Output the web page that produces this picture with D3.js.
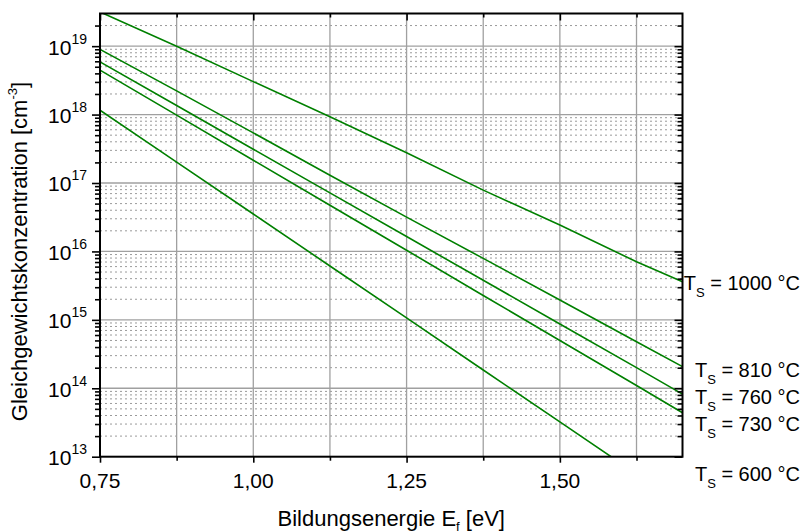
<!DOCTYPE html>
<html>
<head>
<meta charset="utf-8">
<script src="https://cdnjs.cloudflare.com/ajax/libs/d3/7.8.5/d3.min.js"></script>
<style>
  body { margin: 0; background: #fff; }
  svg text { font-family: "Liberation Sans", Arial, sans-serif; fill: #000; }
</style>
</head>
<body>
<div id="chart"></div>
<script>
// values
var energies = [0.75, 0.875, 1.0, 1.125, 1.25, 1.375, 1.5, 1.625, 1.70];
var conc1000 = [3.16e19, 1.0e19, 3.03e18, 9.27e17, 2.76e17, 7.87e16, 2.43e16, 7.06e15, 3.6e15];
var conc810 = [8.95e18, 2.22e18, 5.41e17, 1.30e17, 3.17e16, 7.91e15, 1.95e15, 4.79e14, 2.07e14];
var conc760 = [5.9e18, 1.36e18, 3.12e17, 7.17e16, 1.65e16, 3.79e15, 8.71e14, 2.0e14, 8.2e13];
var conc730 = [4.46e18, 9.8e17, 2.15e17, 4.72e16, 1.04e16, 2.27e15, 5.0e14, 1.10e14, 4.38e13];
var conc600 = [1.16e18, 2.02e17, 3.52e16, 6.13e15, 1.07e15, 1.85e14, 3.22e13, 5.6e12, 1.97e12];
var temps = ["1000", "810", "760", "730", "600"];

var xMajor = [0.75, 1.0, 1.25, 1.5];
var xMinor = [0.875, 1.125, 1.375, 1.625];
var yDecades = [13, 14, 15, 16, 17, 18, 19];

// label baselines on the right (layout only)
var labelBase = [290, 377, 404, 431, 481];

var width = 803, height = 532;
var pLeft = 100, pRight = 682.5, pTop = 13.5, pBottom = 456.7;

var svg = d3.select("#chart").append("svg")
  .attr("width", width)
  .attr("height", height);

var x = d3.scaleLinear().domain([0.75, 1.70]).range([pLeft, pRight]);
var y = d3.scaleLog().domain([1e13, 3e19]).range([pBottom, pTop]);

var yMajor = yDecades.map(function(d) { return Math.pow(10, d); });
var yMinor = [];
yDecades.forEach(function(d) {
  for (var k = 2; k <= 9; k++) {
    var v = k * Math.pow(10, d);
    if (v < 3e19) yMinor.push(v);
  }
});

// grid
var grid = svg.append("g");
grid.selectAll(".gminor")
  .data(yMinor)
  .enter().append("line")
  .attr("x1", pLeft).attr("x2", pRight)
  .attr("y1", function(d) { return y(d); })
  .attr("y2", function(d) { return y(d); })
  .attr("stroke", "#9a9a9a")
  .attr("stroke-width", 1)
  .attr("stroke-dasharray", "2,3");
grid.selectAll(".gmajor")
  .data(yMajor.slice(1))
  .enter().append("line")
  .attr("x1", pLeft).attr("x2", pRight)
  .attr("y1", function(d) { return y(d); })
  .attr("y2", function(d) { return y(d); })
  .attr("stroke", "#a0a0a0")
  .attr("stroke-width", 1.3);
grid.selectAll(".gx")
  .data(xMajor.slice(1).concat(xMinor))
  .enter().append("line")
  .attr("y1", pTop).attr("y2", pBottom)
  .attr("x1", function(d) { return x(d); })
  .attr("x2", function(d) { return x(d); })
  .attr("stroke", "#a0a0a0")
  .attr("stroke-width", 1.3);

// curves
svg.append("clipPath").attr("id", "plotclip")
  .append("rect")
  .attr("x", pLeft).attr("y", pTop)
  .attr("width", pRight - pLeft).attr("height", pBottom - pTop);

var series = [conc1000, conc810, conc760, conc730, conc600];
var line = d3.line()
  .x(function(d, i) { return x(energies[i]); })
  .y(function(d) { return y(d); });

svg.append("g").attr("clip-path", "url(#plotclip)")
  .selectAll("path")
  .data(series)
  .enter().append("path")
  .attr("d", line)
  .attr("fill", "none")
  .attr("stroke", "#008000")
  .attr("stroke-width", 1.6);

// axes
function styleAxis(g) {
  g.select(".domain").remove();
  g.selectAll(".tick line").attr("stroke", "#000").attr("stroke-width", 1.6);
  g.selectAll(".tick text").remove();
}

svg.append("g").attr("transform", "translate(0," + pBottom + ")")
  .call(d3.axisBottom(x).tickValues(xMajor).tickSize(6)).call(styleAxis);
svg.append("g").attr("transform", "translate(0," + pBottom + ")")
  .call(d3.axisBottom(x).tickValues(xMinor).tickSize(4)).call(styleAxis);
svg.append("g").attr("transform", "translate(0," + pTop + ")")
  .call(d3.axisTop(x).tickValues(xMajor).tickSize(-7)).call(styleAxis);
svg.append("g").attr("transform", "translate(0," + pTop + ")")
  .call(d3.axisTop(x).tickValues(xMinor).tickSize(-4)).call(styleAxis);

svg.append("g").attr("transform", "translate(" + pLeft + ",0)")
  .call(d3.axisLeft(y).tickValues(yMajor).tickSize(8)).call(styleAxis);
svg.append("g").attr("transform", "translate(" + pLeft + ",0)")
  .call(d3.axisLeft(y).tickValues(yMinor).tickSize(5)).call(styleAxis);
svg.append("g").attr("transform", "translate(" + pRight + ",0)")
  .call(d3.axisRight(y).tickValues(yMajor).tickSize(-8)).call(styleAxis);
svg.append("g").attr("transform", "translate(" + pRight + ",0)")
  .call(d3.axisRight(y).tickValues(yMinor).tickSize(-5)).call(styleAxis);

svg.append("rect")
  .attr("x", pLeft).attr("y", pTop)
  .attr("width", pRight - pLeft).attr("height", pBottom - pTop)
  .attr("fill", "none")
  .attr("stroke", "#000")
  .attr("stroke-width", 2);

// tick labels
svg.selectAll(".xlab")
  .data(xMajor)
  .enter().append("text")
  .attr("x", function(d) { return x(d); })
  .attr("y", pBottom + 31.5)
  .attr("text-anchor", "middle")
  .style("font-size", "21px")
  .text(function(d) { return d3.format(".2f")(d).replace(".", ","); });

var ylab = svg.selectAll(".ylab")
  .data(yDecades)
  .enter().append("text")
  .attr("x", pLeft - 13)
  .attr("y", function(d) { return y(Math.pow(10, d)) + 8.5; })
  .attr("text-anchor", "end")
  .style("font-size", "21px");
ylab.append("tspan").text("10");
ylab.append("tspan")
  .attr("dy", -11)
  .style("font-size", "14px")
  .text(function(d) { return d; });

// axis titles
var xt = svg.append("text")
  .attr("x", (pLeft + pRight) / 2)
  .attr("y", 525.5)
  .attr("text-anchor", "middle")
  .style("font-size", "22px");
xt.append("tspan").text("Bildungsenergie E");
xt.append("tspan").attr("dy", 5).style("font-size", "13px").text("f");
xt.append("tspan").attr("dy", -5).text(" [eV]");

var yt = svg.append("text")
  .attr("transform", "translate(27,251.5) rotate(-90)")
  .attr("text-anchor", "middle")
  .style("font-size", "22px");
yt.append("tspan").text("Gleichgewichtskonzentration [cm");
yt.append("tspan").attr("dy", -10).style("font-size", "13px").text("-3");
yt.append("tspan").attr("dy", 10).text("]");

// series labels
var lab = svg.selectAll(".tlab")
  .data(temps)
  .enter().append("text")
  .attr("x", 800)
  .attr("y", function(d, i) { return labelBase[i]; })
  .attr("text-anchor", "end")
  .style("font-size", "20px");
lab.append("tspan").text("T");
lab.append("tspan").attr("dy", 7).style("font-size", "13px").text("S");
lab.append("tspan").attr("dy", -7).text(function(d) { return " = " + d + " \u00b0C"; });
</script>
</body>
</html>
